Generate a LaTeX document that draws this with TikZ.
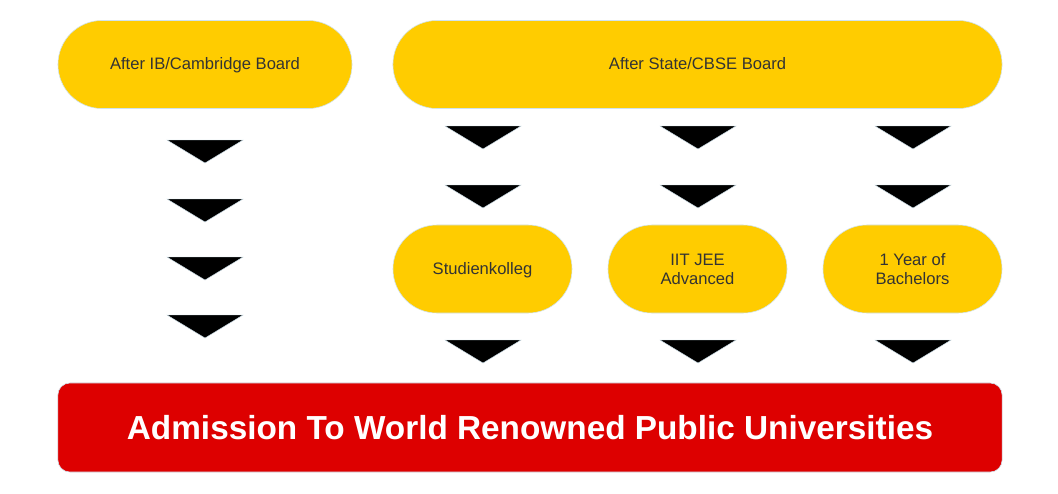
\documentclass[tikz,border=0pt]{standalone}
\usepackage{fontspec}
\setmainfont{Liberation Sans}
\usetikzlibrary{positioning}
\definecolor{Sun}{HTML}{FFCC00}
\definecolor{Crimson}{HTML}{DD0000}
\definecolor{Edge}{HTML}{CFE3EE}
\definecolor{Ink}{HTML}{333333}
\tikzset{
  board/.style={
    rounded corners=1.1cm, draw=Edge, fill=Sun, text=Ink,
    minimum height=2.2cm, align=center,
    font=\fontsize{11.8}{13.5}\selectfont
  },
  oneline/.style={text height=0.86em, text depth=0.12em},
  goal/.style={
    rounded corners=0.3cm, draw=Edge, fill=Crimson, text=white,
    minimum width=23.6cm, minimum height=2.225cm,
    font=\fontsize{23.7}{28}\selectfont\bfseries
  },
  chevron/.style={fill=black, draw=Edge, line width=0.3pt}
}
\begin{document}
\begin{tikzpicture}[x=0.025cm,y=-0.025cm]
    \useasboundingbox[fill=white] (0,0) rectangle (1058,493);
    \node[board,oneline,minimum width=7.35cm] (ib) at (205,64.5) {After IB/Cambridge Board};
    \node[board,oneline,minimum width=15.225cm] (state) at (697.5,64.5) {After State/CBSE Board};
    \node[board,oneline,minimum width=4.475cm] (kolleg) at (482.5,269) {Studienkolleg};
    \node[board,minimum width=4.475cm] (jee) at (697.5,269) {IIT JEE\\Advanced};
    \node[board,minimum width=4.475cm] (bach) at (912.5,269) {1 Year of\\Bachelors};
    \node[goal] (admit) at (530,427.5) {Admission To World Renowned Public Universities};
    % arrow heads
    \foreach \y in {140,199,257,315}
      \filldraw[chevron] (167,\y) -- (243,\y) -- (205,\y+23) -- cycle;
    \foreach \x in {483,698,913}
      \foreach \y in {126,185,340}
        \filldraw[chevron] (\x-38,\y) -- (\x+38,\y) -- (\x,\y+23) -- cycle;
\end{tikzpicture}
\end{document}
